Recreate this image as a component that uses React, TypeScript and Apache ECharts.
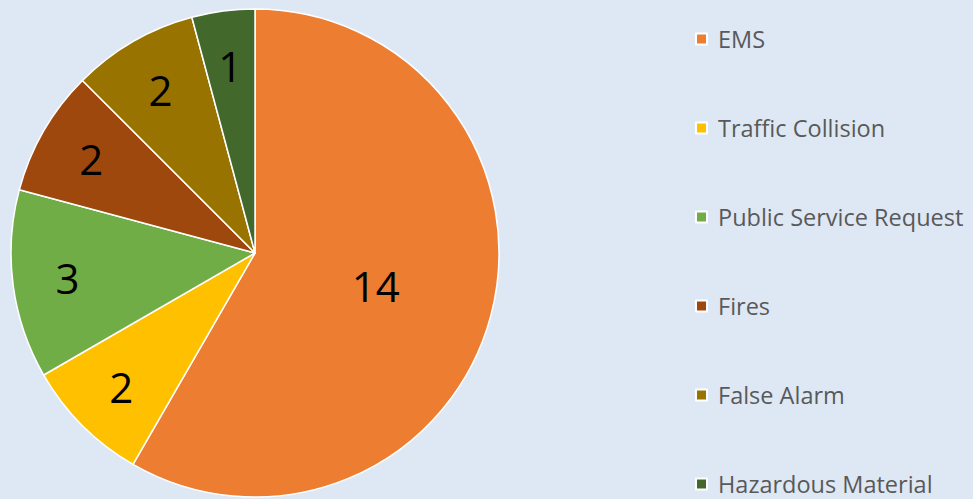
import React, { useEffect, useRef } from "react";
import * as echarts from "echarts";

const categories = [
  "EMS",
  "Traffic Collision",
  "Public Service Request",
  "Fires",
  "False Alarm",
  "Hazardous Material",
];
const values = [14, 2, 3, 2, 2, 1];
const colors = ["#ED7D31", "#FFC000", "#70AD47", "#9E480E", "#997300", "#43682B"];

export default function App() {
  const ref = useRef<HTMLDivElement>(null);
  useEffect(() => {
    document.body.style.margin = "0";
    const chart = echarts.init(ref.current!, null, { renderer: "svg" });
    const labelFont = {
      fontFamily: "'Open Sans', sans-serif",
      fontSize: 42,
      color: "#000000",
    };
    chart.setOption({
      animation: false,
      backgroundColor: "#DEE8F4",
      color: colors,
      legend: {
        orient: "vertical",
        left: 695,
        top: 27,
        bottom: 0,
        padding: 0,
        itemWidth: 11,
        itemHeight: 11,
        itemGap: 65,
        icon: "rect",
        data: categories,
        textStyle: {
          fontFamily: "'Open Sans', sans-serif",
          fontSize: 23.5,
          lineHeight: 24,
          color: "#595959",
          padding: [0, 0, 0, 6],
        },
      },
      series: [
        {
          type: "pie",
          center: [255, 253],
          radius: [0, 244],
          startAngle: 90,
          clockwise: true,
          silent: true,
          itemStyle: { borderColor: "#ffffff", borderWidth: 1.5 },
          labelLine: { show: false },
          data: categories.map((name, i) => ({
            name,
            value: values[i],
            itemStyle: { color: colors[i] },
            label: {
              show: i === 0,
              position: "inside",
              formatter: "{c}",
              ...labelFont,
            },
          })),
        },
        {
          type: "pie",
          center: [255, 253],
          radius: [128, 244],
          startAngle: 90,
          clockwise: true,
          silent: true,
          z: 5,
          itemStyle: { color: "rgba(0,0,0,0)", borderWidth: 0 },
          labelLine: { show: false },
          data: categories.map((name, i) => ({
            name,
            value: values[i],
            itemStyle: { color: "rgba(0,0,0,0)" },
            label: {
              show: i !== 0,
              position: "inside",
              formatter: "{c}",
              ...labelFont,
            },
          })),
        },
      ],
    });
    return () => chart.dispose();
  }, []);
  return (
    <div
      ref={ref}
      style={{ position: "fixed", left: 0, top: 0, width: 973, height: 499 }}
    />
  );
}
